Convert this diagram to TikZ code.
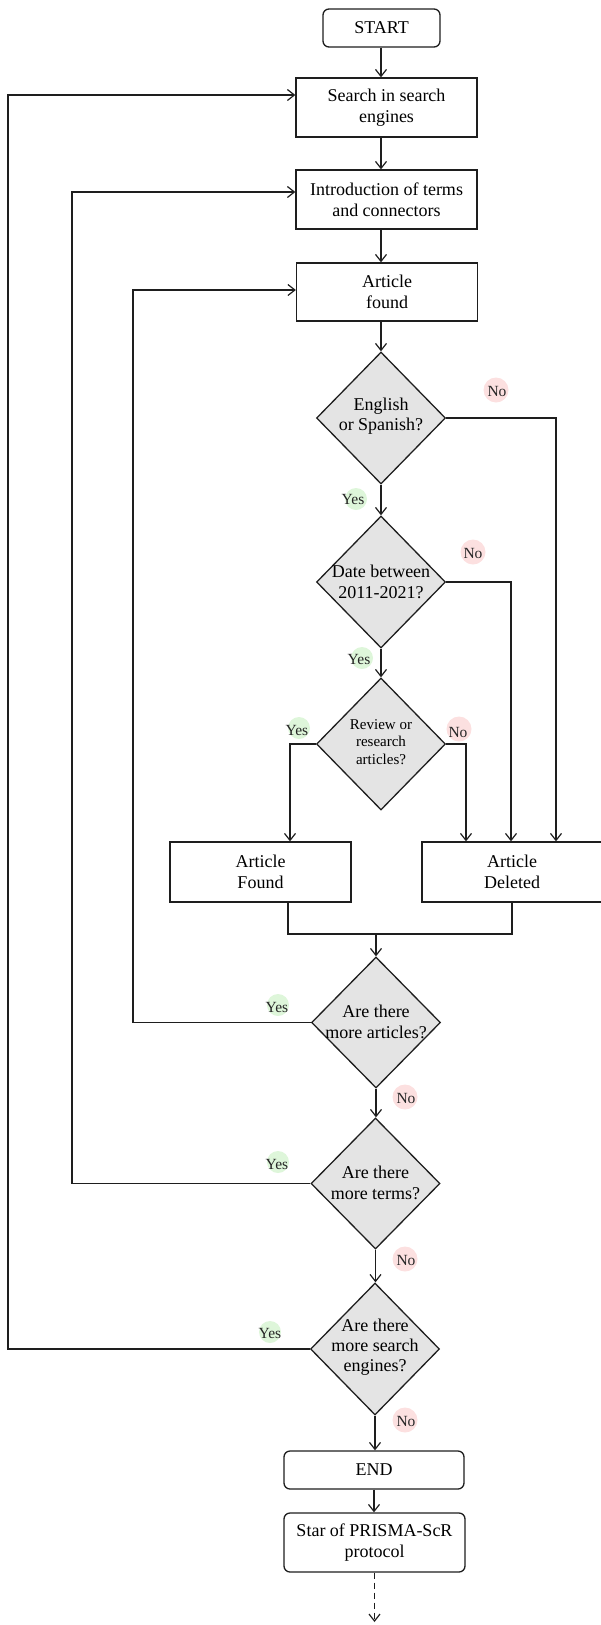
\documentclass[tikz,border=0pt]{standalone}
\usepackage{fontspec}
\setmainfont{Liberation Serif}
\usetikzlibrary{arrows.meta,shapes.geometric}
\definecolor{ln}{RGB}{30,30,30}
\definecolor{dfill}{RGB}{228,228,228}
\definecolor{yesc}{RGB}{222,246,218}
\definecolor{noc}{RGB}{252,224,224}
\begin{document}
\begin{tikzpicture}[x=1pt,y=-1pt,
  box/.style={draw=ln,line width=1.3pt,fill=white,minimum width=181pt,minimum height=59pt,align=center,font=\fontsize{18}{21}\selectfont,inner sep=0pt},
  rbox/.style={box,rounded corners=6pt},
  dia/.style={draw=ln,line width=1.3pt,fill=dfill,diamond,minimum width=129pt,minimum height=132pt,inner sep=0pt},
  dtxt/.style={align=center,font=\fontsize{18}{20.5}\selectfont,inner sep=0pt},
  conn/.style={draw=ln,line width=1.2pt},
  arr/.style={conn,-{Straight Barb[length=7pt,width=11pt,line width=1.2pt]}},
  lbl/.style={font=\fontsize{15.5}{17}\selectfont,inner sep=0pt,text=black!85}
]
\useasboundingbox (0,0) rectangle (601,1625);

% label backgrounds
\fill[yesc] (356,499) circle (11);
\fill[noc] (496,390) circle (12.5);
\fill[yesc] (362,658) circle (11);
\fill[noc] (473,552) circle (12.5);
\fill[yesc] (299,728) circle (11);
\fill[noc] (459,729) circle (12.5);
\fill[yesc] (278,1005) circle (11);
\fill[noc] (405,1097) circle (12.5);
\fill[yesc] (278,1162) circle (11);
\fill[noc] (405,1259) circle (12.5);
\fill[yesc] (270,1332) circle (11);
\fill[noc] (405,1420) circle (12.5);

% nodes
\node[rbox,minimum width=117pt,minimum height=38pt] (start) at (381.5,28) {START};
\node[box] (search) at (386.5,107.5) {Search in search\\engines};
\node[box] (intro) at (386.5,199.5) {Introduction of terms\\and connectors};
\node[box,minimum height=58pt] (found1) at (387,292) {Article\\found};
\node[dia] (d1) at (381,418) {};
\node[dtxt] (t1) at (381,416) {English\\or Spanish?};
\node[dia] (d2) at (381,582) {};
\node[dtxt] (t2) at (381,582) {Date between\\2011-2021?};
\node[dia] (d3) at (381,744) {};
\node[dtxt,font=\fontsize{15}{17.5}\selectfont] (t3) at (381,742) {Review or\\research\\articles?};
\node[box,minimum height=60pt] (foundA) at (260.5,872) {Article\\Found};
\node[box,minimum width=180pt,minimum height=60pt] (del) at (512,872) {Article\\Deleted};
\node[dia,minimum height=131pt] (d4) at (376,1022.5) {};
\node[dtxt] (t4) at (376,1022) {Are there\\more articles?};
\node[dia,minimum height=131pt] (d5) at (375.5,1183.5) {};
\node[dtxt] (t5) at (375.5,1183) {Are there\\more terms?};
\node[dia] (d6) at (375,1349) {};
\node[dtxt,font=\fontsize{18}{20}\selectfont] (t6) at (375,1347) {Are there\\more search\\engines?};
\node[rbox,minimum width=180pt,minimum height=38pt] (end) at (374,1470) {END};
\node[rbox] (star) at (374.5,1542.5) {Star of PRISMA-ScR\\protocol};

% labels
\node[lbl] (y1) at (353,499) {Yes};
\node[lbl] (n1) at (497,391) {No};
\node[lbl] (y2) at (359,659) {Yes};
\node[lbl] (n2) at (473,553) {No};
\node[lbl] (y3) at (297,730) {Yes};
\node[lbl] (n3) at (458,732) {No};
\node[lbl] (y4) at (277,1007) {Yes};
\node[lbl] (n4) at (406,1098) {No};
\node[lbl] (y5) at (277,1164) {Yes};
\node[lbl] (n5) at (406,1260) {No};
\node[lbl] (y6) at (270,1333) {Yes};
\node[lbl] (n6) at (406,1421) {No};

% main column
\draw[arr] (start.south -| d1) -- (search.north -| d1);
\draw[arr] (search.south -| d1) -- (intro.north -| d1);
\draw[arr] (intro.south -| d1) -- (found1.north -| d1);
\draw[arr] (found1.south -| d1) -- (d1.north);
\draw[arr] (d1.south) -- (d2.north);
\draw[arr] (d2.south) -- (d3.north);

% No branches to deleted
\coordinate (r1) at (556,418);
\coordinate (r2) at (511,582);
\coordinate (r3) at (466,744);
\coordinate (l3) at (290,744);
\draw[arr] (d1.east) -- (r1) -- (r1 |- del.north);
\draw[arr] (d2.east) -- (r2) -- (r2 |- del.north);
\draw[arr] (d3.east) -- (r3) -- (r3 |- del.north);
\draw[arr] (d3.west) -- (l3) -- (l3 |- foundA.north);

% merge
\coordinate (mA) at (288,934);
\coordinate (mB) at (512,934);
\draw[conn] (foundA.south -| mA) -- (mA) -- (mB) -- (del.south -| mB);
\draw[arr] (mA -| d4) -- (d4.north);

% loops back
\coordinate (b1) at (133,1022.5);
\coordinate (b1t) at (133,290);
\coordinate (b2) at (72,1183.5);
\coordinate (b2t) at (72,192);
\coordinate (b3) at (8,1349);
\coordinate (b3t) at (8,95);
\draw[arr] (d4.west) -- (b1) -- (b1t) -- (b1t -| found1.west);
\draw[arr] (d5.west) -- (b2) -- (b2t) -- (b2t -| intro.west);
\draw[arr] (d6.west) -- (b3) -- (b3t) -- (b3t -| search.west);

% bottom column
\draw[arr] (d4.south) -- (d4.south |- d5.north);
\draw[arr] (d5.south) -- (d5.south |- d6.north);
\draw[arr] (d6.south) -- (d6.south |- end.north);
\draw[arr] (end.south) -- (end.south |- star.north);
\coordinate (dend) at (374.5,1622);
\draw[arr,dash pattern=on 6pt off 4pt] (star.south) -- (dend);
\end{tikzpicture}
\end{document}
